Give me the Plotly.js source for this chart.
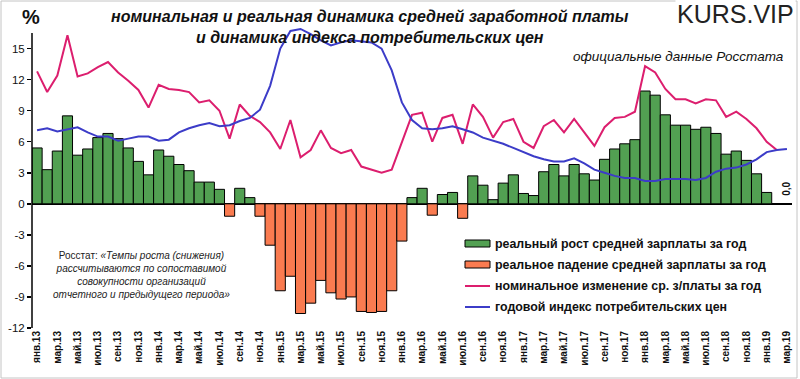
<!DOCTYPE html>
<html>
<head>
<meta charset="utf-8">
<script src="https://cdn.plot.ly/plotly-3.0.1.min.js"></script>
<style>html,body{margin:0;padding:0;background:#fff;}#chart{width:800px;height:379px;}</style>
</head>
<body>
<div id="chart"></div>
<script>
// ---- data ----
const months = [
 "янв.13","фев.13","мар.13","апр.13","май.13","июн.13","июл.13","авг.13","сен.13","окт.13","ноя.13","дек.13",
 "янв.14","фев.14","мар.14","апр.14","май.14","июн.14","июл.14","авг.14","сен.14","окт.14","ноя.14","дек.14",
 "янв.15","фев.15","мар.15","апр.15","май.15","июн.15","июл.15","авг.15","сен.15","окт.15","ноя.15","дек.15",
 "янв.16","фев.16","мар.16","апр.16","май.16","июн.16","июл.16","авг.16","сен.16","окт.16","ноя.16","дек.16",
 "янв.17","фев.17","мар.17","апр.17","май.17","июн.17","июл.17","авг.17","сен.17","окт.17","ноя.17","дек.17",
 "янв.18","фев.18","мар.18","апр.18","май.18","июн.18","июл.18","авг.18","сен.18","окт.18","ноя.18","дек.18",
 "янв.19","фев.19","мар.19"
];
const tickLabels = [
 "янв.13","мар.13","май.13","июл.13","сен.13","ноя.13",
 "янв.14","мар.14","май.14","июл.14","сен.14","ноя.14",
 "янв.15","мар.15","май.15","июл.15","сен.15","ноя.15",
 "янв.16","мар.16","май.16","июл.16","сен.16","ноя.16",
 "янв.17","мар.17","май.17","июл.17","сен.17","ноя.17",
 "янв.18","мар.18","май.18","июл.18","сен.18","ноя.18",
 "янв.19","мар.19"
];
// real wage change, % y/y
const realWage = [
 5.4, 3.3, 5.1, 8.5, 4.7, 5.3, 6.4, 6.8, 6.3, 5.4, 4.1, 2.8,
 5.2, 4.6, 3.8, 3.2, 2.1, 2.1, 1.4, -1.2, 1.5, 0.6, -1.2, -4.0,
 -8.4, -7.0, -10.6, -9.6, -7.4, -8.6, -9.2, -9.0, -10.4, -10.5, -10.4, -8.4,
 -3.6, 0.6, 1.5, -1.1, 0.9, 1.1, -1.4, 2.7, 1.8, 0.4, 2.0, 2.8,
 1.0, 0.8, 3.1, 3.8, 2.7, 3.8, 2.9, 2.3, 4.3, 5.3, 5.8, 6.2,
 10.9, 10.5, 8.6, 7.6, 7.6, 7.2, 7.4, 6.8, 4.8, 5.1, 4.2, 2.9,
 1.1, null, 0.0
];
// nominal wage change, % y/y
const nominalWage = [
 12.8, 10.8, 12.4, 16.3, 12.3, 12.6, 13.2, 13.7, 12.7, 11.9, 11.0, 9.3,
 11.5, 11.1, 11.0, 10.8, 9.8, 10.0, 9.0, 6.3, 9.6, 8.5, 7.9, 6.9,
 5.3, 8.1, 4.5, 5.2, 7.1, 5.4, 4.9, 5.2, 3.6, 3.3, 3.0, 3.3,
 6.0, 8.6, 8.8, 6.0, 8.3, 8.6, 5.8, 9.6, 8.4, 6.4, 7.9, 8.2,
 6.0, 5.4, 7.5, 8.1, 6.9, 8.2, 6.9, 5.6, 7.4, 8.3, 8.4, 8.9,
 13.3, 12.7, 11.1, 10.1, 10.1, 9.7, 10.1, 10.0, 8.4, 8.9, 8.2, 7.3,
 6.0, 5.2, null
];
// annual CPI, %
const cpi = [
 7.1, 7.3, 7.0, 7.2, 7.4, 6.9, 6.5, 6.5, 6.1, 6.3, 6.5, 6.5,
 6.1, 6.2, 6.9, 7.3, 7.6, 7.8, 7.5, 7.6, 8.0, 8.3, 9.1, 11.4,
 15.0, 16.7, 16.9, 16.4, 15.8, 15.3, 15.6, 15.8, 15.7, 15.6, 15.0, 12.9,
 9.8, 8.1, 7.3, 7.2, 7.3, 7.5, 7.2, 6.9, 6.4, 6.1, 5.8, 5.4,
 5.0, 4.6, 4.3, 4.1, 4.1, 4.4, 3.9, 3.3, 3.0, 2.7, 2.5, 2.5,
 2.2, 2.2, 2.4, 2.4, 2.4, 2.3, 2.5, 3.1, 3.4, 3.5, 3.8, 4.3,
 5.0, 5.2, 5.3
];
const seriesNames = [
 "реальный рост средней зарплаты за год",
 "реальное падение средней зарплаты за год",
 "номинальное изменение ср. з/платы за год",
 "годовой индекс потребительских цен"
];
const yTicks = [-12,-9,-6,-3,0,3,6,9,12,15];

// ---- layout helpers ----
const W=800, H=379, L=32, R=8, T=25, B=51;
const PW=W-L-R, PH=H-T-B;
const px = x => (x-L)/PW;
const py = y => (H-B-y)/PH;

const GREEN='#52A052', ORANGE='#FA7B50', MAGENTA='#DC1E6E', BLUE='#3C3CC8';

const traces = [
 {type:'bar', x:months, y:realWage.map(v=> (v!==null && v>=0)? v : null),
  marker:{color:GREEN, line:{color:'#000', width:1}}, name:seriesNames[0], hoverinfo:'x+y'},
 {type:'bar', x:months, y:realWage.map(v=> (v!==null && v<0)? v : null),
  marker:{color:ORANGE, line:{color:'#000', width:1}}, name:seriesNames[1], hoverinfo:'x+y'},
 {type:'scatter', mode:'lines', x:months, y:nominalWage, line:{color:MAGENTA, width:2}, name:seriesNames[2]},
 {type:'scatter', mode:'lines', x:months, y:cpi, line:{color:BLUE, width:2}, name:seriesNames[3]}
];

const FONT='Liberation Sans, Arial, sans-serif';
const shapes = [
 // frame
 {type:'rect', xref:'paper', yref:'paper', x0:px(1), x1:px(797), y0:py(378), y1:py(1), line:{color:'#c4c4c4', width:1}},
 // y axis line
 {type:'line', xref:'paper', yref:'y', x0:0, x1:0, y0:-12, y1:16.5, line:{color:'#000', width:1.5}},
 // legend symbols
 {type:'rect', xref:'paper', yref:'paper', x0:px(465), x1:px(490), y0:py(247), y1:py(240), fillcolor:GREEN, line:{color:'#000', width:1}},
 {type:'rect', xref:'paper', yref:'paper', x0:px(465), x1:px(490), y0:py(268), y1:py(261), fillcolor:ORANGE, line:{color:'#000', width:1}},
 {type:'line', xref:'paper', yref:'paper', x0:px(465), x1:px(490), y0:py(286), y1:py(286), line:{color:MAGENTA, width:2}},
 {type:'line', xref:'paper', yref:'paper', x0:px(465), x1:px(490), y0:py(307), y1:py(307), line:{color:BLUE, width:2}}
];

const legRows=[244,265,286,307];
const annotations = [
 {xref:'paper', yref:'paper', x:px(370), y:py(27), xanchor:'center', yanchor:'middle', showarrow:false,
  text:'<b><i>номинальная и реальная динамика средней заработной платы<br>и динамика индекса потребительских цен</i></b>',
  font:{family:FONT, size:16, color:'#111'}},
 {xref:'paper', yref:'paper', x:px(796), y:py(14), xanchor:'right', yanchor:'middle', showarrow:false,
  text:'KURS.VIP', font:{family:FONT, size:25, color:'#222'}, bgcolor:'#fff'},
 {xref:'paper', yref:'paper', x:px(786), y:py(56), xanchor:'right', yanchor:'middle', showarrow:false,
  text:'<i>официальные данные Росстата</i>', font:{family:FONT, size:13.5, color:'#111'}},
 {xref:'paper', yref:'paper', x:px(31), y:py(17), xanchor:'center', yanchor:'middle', showarrow:false,
  text:'<b>%</b>', font:{family:FONT, size:20, color:'#111'}},
 {xref:'paper', yref:'paper', x:px(141), y:py(275), xanchor:'center', yanchor:'middle', showarrow:false,
  text:'Росстат: <i>«Темпы роста (снижения)<br>рассчитываются по сопоставимой<br>совокупности организаций<br>отчетного и предыдущего периода»</i>',
  font:{family:FONT, size:10, color:'#222'}},
 {xref:'x', yref:'y', x:'мар.19', y:0, xanchor:'center', yanchor:'bottom', yshift:6, showarrow:false,
  textangle:-90, text:'<b>0,0</b>', font:{family:FONT, size:10, color:'#111'}}
];
seriesNames.forEach((n,i)=>{
 annotations.push({xref:'paper', yref:'paper', x:px(493), y:py(legRows[i]), xanchor:'left', yanchor:'middle',
  showarrow:false, text:'<b>'+n+'</b>', font:{family:FONT, size:12.4, color:'#111'}});
});

const layout = {
 width:W, height:H, margin:{l:L, r:R, t:T, b:B, pad:0},
 paper_bgcolor:'#fff', plot_bgcolor:'#fff',
 barmode:'overlay', bargap:0, showlegend:false,
 xaxis:{type:'category', categoryarray:months, categoryorder:'array', range:[-0.5, 74.5],
  tickmode:'array', tickvals:tickLabels, ticktext:tickLabels, tickangle:-90,
  tickfont:{family:FONT, size:10, color:'#111', weight:'bold'},
  showgrid:false, showline:false, zeroline:false, ticks:'', fixedrange:true},
 yaxis:{range:[-12, 17.28], tickmode:'array', tickvals:yTicks, ticktext:yTicks.map(String),
  ticks:'outside', ticklen:4, tickwidth:1.5, tickcolor:'#000',
  tickfont:{family:FONT, size:11.5, color:'#111'},
  showgrid:false, showline:false, zeroline:true, zerolinecolor:'#000', zerolinewidth:1.5, fixedrange:true},
 shapes:shapes, annotations:annotations
};

Plotly.newPlot('chart', traces, layout, {staticPlot:true, displayModeBar:false});
</script>
</body>
</html>
